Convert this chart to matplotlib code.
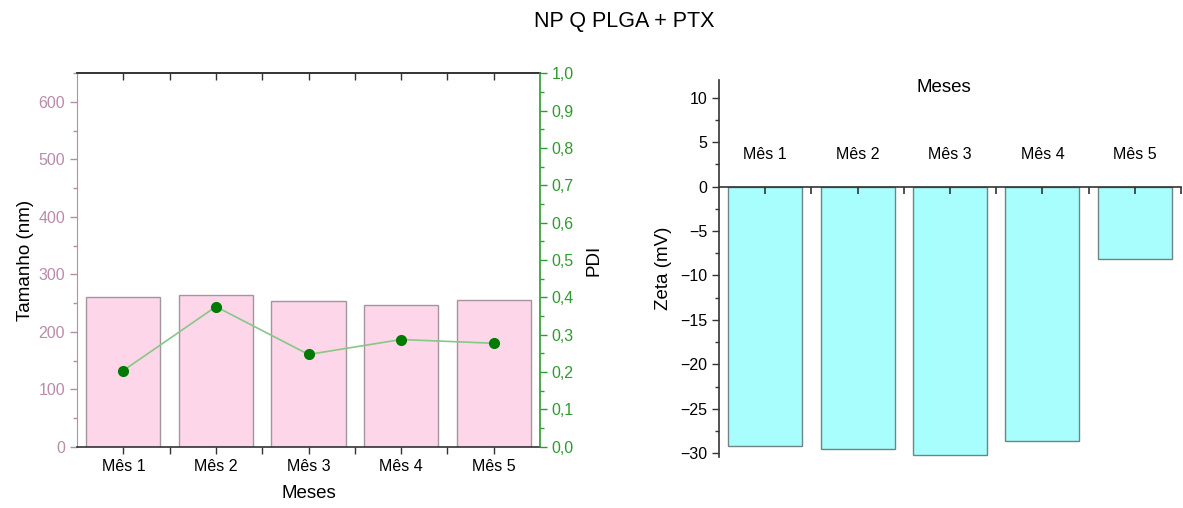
import numpy as np
import matplotlib
matplotlib.use("Agg")
import matplotlib.pyplot as plt
from matplotlib.ticker import MultipleLocator, FuncFormatter

plt.rcParams['font.family'] = ['Liberation Sans', 'DejaVu Sans']

# Dados
meses = ['Mês 1', 'Mês 2', 'Mês 3', 'Mês 4', 'Mês 5']
tamanho = [260, 264, 253, 247, 255]          # nm
pdi = [0.204, 0.375, 0.247, 0.287, 0.277]
zeta = [-29.2, -29.5, -30.25, -28.6, -8.2]   # mV

x = np.arange(1, len(meses) + 1)

cor_rosa = '#b98cab'
cor_verde = '#2f9a2f'
cor_eixo = '#333333'

fig = plt.figure(figsize=(11.83, 5.08), dpi=100)
fig.text(0.528, 0.957, 'NP Q PLGA + PTX', ha='center', va='center', fontsize=15.5)

# --- Tamanho + PDI ---
ax1 = fig.add_axes([0.0651, 0.1207, 0.3914, 0.735])
ax1.bar(x, tamanho, width=0.8, color='#fdd6e9', edgecolor='#a3959d', linewidth=1)
ax1.set_xlim(0.5, 5.5)
ax1.set_ylim(0, 650)
ax1.set_xticks(x)
ax1.set_xticklabels(meses)
ax1.set_xticks(np.arange(1.5, 5.5, 1), minor=True)
ax1.yaxis.set_major_locator(MultipleLocator(100))
ax1.yaxis.set_minor_locator(MultipleLocator(50))
ax1.tick_params(axis='x', which='both', direction='out', length=5, width=1,
                color=cor_eixo, labelsize=11.5, pad=4)
ax1.tick_params(axis='y', which='major', direction='out', length=5, width=1,
                color=cor_rosa, labelcolor=cor_rosa, labelsize=11.5)
ax1.tick_params(axis='y', which='minor', direction='out', length=3, width=1,
                color=cor_rosa)
for lado in ['top', 'bottom']:
    ax1.spines[lado].set_color(cor_eixo)
    ax1.spines[lado].set_linewidth(1.2)
ax1.spines['left'].set_color(cor_rosa)
ax1.spines['right'].set_visible(False)
ax1.set_xlabel('Meses', fontsize=13.5, labelpad=8)
ax1.set_ylabel('Tamanho (nm)', fontsize=13.5, labelpad=3)

# marcas no eixo superior, voltadas para dentro
topo = ax1.secondary_xaxis('top')
topo.set_xticks(x)
topo.set_xticks(np.arange(1.5, 5.5, 1), minor=True)
topo.tick_params(axis='x', which='both', direction='in', length=5, width=1,
                 color=cor_eixo, labeltop=False)
topo.spines['top'].set_color(cor_eixo)
topo.spines['top'].set_linewidth(1.2)

ax2 = ax1.twinx()
ax2.plot(x, pdi, color='#86c886', linewidth=1.2, marker='o', markersize=7,
         markerfacecolor='#007a00', markeredgecolor='#007a00')
ax2.set_ylim(0, 1.0)
ax2.yaxis.set_major_locator(MultipleLocator(0.1))
ax2.yaxis.set_minor_locator(MultipleLocator(0.05))
ax2.yaxis.set_major_formatter(FuncFormatter(lambda v, p: f'{v:.1f}'.replace('.', ',')))
ax2.tick_params(axis='y', which='major', direction='out', length=5, width=1,
                color=cor_verde, labelcolor=cor_verde, labelsize=11.5)
ax2.tick_params(axis='y', which='minor', direction='out', length=3, width=1,
                color=cor_verde)
for lado in ['top', 'bottom', 'left']:
    ax2.spines[lado].set_visible(False)
ax2.spines['right'].set_color(cor_verde)
ax2.spines['right'].set_linewidth(1.2)
ax2.set_ylabel('PDI', fontsize=13.5, labelpad=8)

# --- Zeta ---
ax3 = fig.add_axes([0.6078, 0.101, 0.3905, 0.7415])
ax3.bar(x, zeta, width=0.8, color='#a8fdfd', edgecolor='#6f8585', linewidth=1)
ax3.set_xlim(0.5, 5.5)
ax3.set_ylim(-30.4, 12)
ax3.spines['right'].set_visible(False)
ax3.spines['bottom'].set_visible(False)
ax3.spines['top'].set_position(('data', 0))
ax3.spines['top'].set_color(cor_eixo)
ax3.spines['left'].set_color(cor_eixo)
ax3.spines['top'].set_linewidth(1.2)
ax3.spines['left'].set_linewidth(1.2)
ax3.xaxis.tick_top()
ax3.set_xticks(x)
ax3.set_xticklabels(meses)
ax3.set_xticks(np.arange(1.5, 5.6, 1), minor=True)
ax3.tick_params(axis='x', which='both', direction='in', length=5, width=1.2,
                color=cor_eixo, labelsize=11.5, pad=18)
ax3.yaxis.set_major_locator(MultipleLocator(5))
ax3.yaxis.set_minor_locator(MultipleLocator(2.5))
ax3.tick_params(axis='y', which='major', direction='out', length=5, width=1,
                color=cor_eixo, labelsize=11.5)
ax3.tick_params(axis='y', which='minor', direction='out', length=3, width=1,
                color=cor_eixo)
ax3.yaxis.set_major_formatter(FuncFormatter(lambda v, p: f'{v:.0f}'.replace('-', '\u2212')))
ax3.set_ylabel('Zeta (mV)', fontsize=13.5, labelpad=6)
ax3.text(0.487, 0.98, 'Meses', transform=ax3.transAxes, ha='center', va='center',
         fontsize=13.5)

fig.savefig('out.png', dpi=100)
